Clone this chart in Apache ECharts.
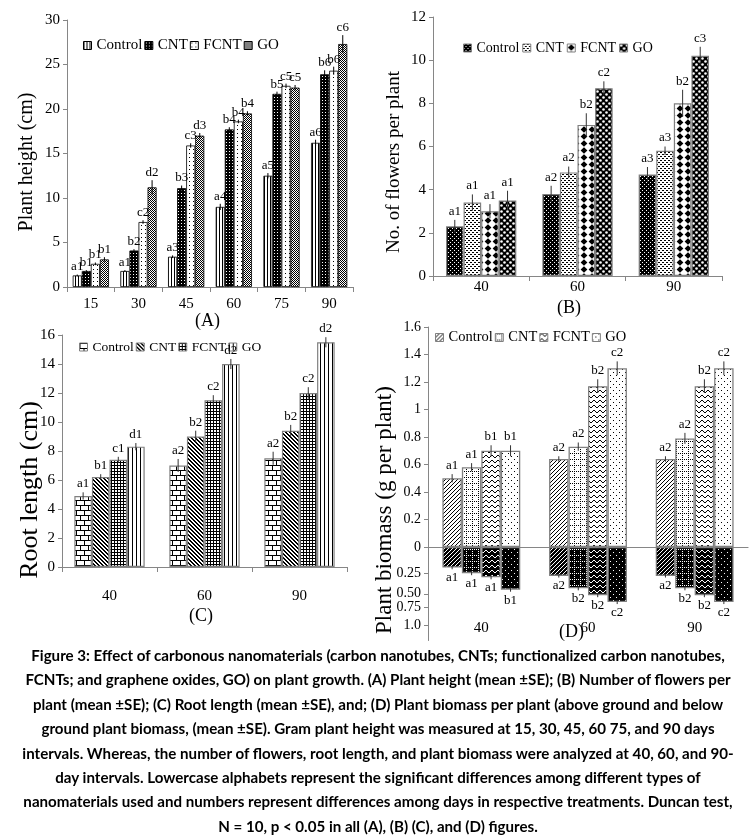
<!DOCTYPE html>
<html>
<head>
<meta charset="utf-8">
<script src="https://cdn.jsdelivr.net/npm/echarts@6.0.0/dist/echarts.min.js"></script>
<style>
html,body{margin:0;padding:0;background:#fff;}
body{width:756px;height:840px;position:relative;overflow:hidden;}
.p{position:absolute;}
#cap{position:absolute;left:0;width:756px;top:643px;text-align:center;font-family:Lato,'Open Sans',sans-serif;font-weight:700;color:#000;line-height:24.4px;white-space:nowrap;}
</style>
</head>
<body>
<div id="A" class="p" style="left:0;top:0;width:380px;height:330px"></div>
<div id="B" class="p" style="left:380px;top:0;width:376px;height:320px"></div>
<div id="C" class="p" style="left:0;top:315px;width:380px;height:320px"></div>
<div id="D" class="p" style="left:370px;top:315px;width:386px;height:330px"></div>
<div id="cap"></div>
<script>
// ================= DATA =================
var names = ['Control', 'CNT', 'FCNT', 'GO'];

// (A) Plant height (cm)
var aCats = ['15', '30', '45', '60', '75', '90'];
var aControl = [1.3, 1.8, 3.4, 9.0, 12.5, 16.2];
var aCNT     = [1.8, 4.1, 11.1, 17.7, 21.7, 23.9];
var aFCNT    = [2.6, 7.3, 15.9, 18.6, 22.6, 24.3];
var aGO      = [3.1, 11.2, 17.0, 19.5, 22.4, 27.3];
var aErrControl = [0.1, 0.1, 0.15, 0.35, 0.3, 0.35];
var aErrCNT     = [0.1, 0.15, 0.3, 0.25, 0.25, 0.45];
var aErrFCNT    = [0.15, 0.2, 0.25, 0.2, 0.25, 0.45];
var aErrGO      = [0.25, 0.8, 0.3, 0.25, 0.3, 1.0];
var aLabControl = ['a1', 'a1', 'a3', 'a4', 'a5', 'a6'];
var aLabCNT     = ['b1', 'b2', 'b3', 'b4', 'b5', 'b6'];
var aLabFCNT    = ['b1', 'c2', 'c3', 'b4', 'c5', 'b6'];
var aLabGO      = ['b1', 'd2', 'd3', 'b4', 'c5', 'c6'];

// (B) No. of flowers per plant
var bCats = ['40', '60', '90'];
var bControl = [2.3, 3.8, 4.7];
var bCNT     = [3.4, 4.8, 5.8];
var bFCNT    = [3.0, 7.0, 8.0];
var bGO      = [3.5, 8.7, 10.2];
var bErrControl = [0.3, 0.38, 0.35];
var bErrCNT     = [0.38, 0.27, 0.2];
var bErrFCNT    = [0.33, 0.54, 0.63];
var bErrGO      = [0.45, 0.32, 0.42];
var bLabControl = ['a1', 'a2', 'a3'];
var bLabCNT     = ['a1', 'a2', 'a3'];
var bLabFCNT    = ['a1', 'b2', 'b2'];
var bLabGO      = ['a1', 'c2', 'c3'];

// (C) Root length (cm)
var cCats = ['40', '60', '90'];
var cControl = [4.9, 7.0, 7.5];
var cCNT     = [6.2, 9.0, 9.4];
var cFCNT    = [7.4, 11.5, 12.0];
var cGO      = [8.3, 14.0, 15.5];
var cErrControl = [0.25, 0.45, 0.45];
var cErrCNT     = [0.2, 0.4, 0.4];
var cErrFCNT    = [0.2, 0.35, 0.4];
var cErrGO      = [0.25, 0.35, 0.35];
var cLabControl = ['a1', 'a2', 'a2'];
var cLabCNT     = ['b1', 'b2', 'b2'];
var cLabFCNT    = ['c1', 'c2', 'c2'];
var cLabGO      = ['d1', 'd2', 'd2'];

// (D) Plant biomass (g per plant): above ground (positive) and below ground (negative)
var dCats = ['40', '60', '90'];
var dAboveControl = [0.50, 0.64, 0.64];
var dAboveCNT     = [0.58, 0.73, 0.79];
var dAboveFCNT    = [0.70, 1.17, 1.17];
var dAboveGO      = [0.70, 1.30, 1.30];
var dBelowControl = [-0.15, -0.21, -0.21];
var dBelowCNT     = [-0.19, -0.30, -0.30];
var dBelowFCNT    = [-0.22, -0.35, -0.35];
var dBelowGO      = [-0.31, -0.40, -0.40];
var dErrAboveControl = [0.03, 0.02, 0.02];
var dErrAboveCNT     = [0.03, 0.03, 0.04];
var dErrAboveFCNT    = [0.04, 0.05, 0.05];
var dErrAboveGO      = [0.04, 0.05, 0.05];
var dErrBelowControl = [0.012, 0.012, 0.012];
var dErrBelowCNT     = [0.015, 0.015, 0.015];
var dErrBelowFCNT    = [0.015, 0.015, 0.015];
var dErrBelowGO      = [0.015, 0.015, 0.015];
var dLabAboveControl = ['a1', 'a2', 'a2'];
var dLabAboveCNT     = ['a1', 'a2', 'a2'];
var dLabAboveFCNT    = ['b1', 'b2', 'b2'];
var dLabAboveGO      = ['b1', 'c2', 'c2'];
var dLabBelowControl = ['a1', 'a2', 'a2'];
var dLabBelowCNT     = ['a1', 'b2', 'b2'];
var dLabBelowFCNT    = ['a1', 'b2', 'b2'];
var dLabBelowGO      = ['b1', 'c2', 'c2'];
// y tick labels of panel D (the two closely spaced below-ground labels share one two-line label)
var dTickLabels = ['1.6', '1.4', '1.2', '1', '0.8', '0.6', '0.4', '0.2', '0', '0.25', '0.50\n0.75', '1.0'];
var dTickValues = [1.6, 1.4, 1.2, 1.0, 0.8, 0.6, 0.4, 0.2, 0, -0.19, -0.39, -0.57];
var dTickMarks  = [1.6, 1.4, 1.2, 1.0, 0.8, 0.6, 0.4, 0.2, 0, -0.19, -0.34, -0.44, -0.57];

var axisTitles = {
  A: 'Plant height (cm)',
  B: 'No. of flowers per plant',
  C: 'Root length (cm)',
  D: 'Plant biomass (g per plant)'
};

var captionLines = [
  'Figure 3: Effect of carbonous nanomaterials (carbon nanotubes, CNTs; functionalized carbon nanotubes,',
  'FCNTs; and graphene oxides, GO) on plant growth. (A) Plant height (mean \u00b1SE); (B) Number of flowers per',
  'plant (mean \u00b1SE); (C) Root length (mean \u00b1SE), and; (D) Plant biomass per plant (above ground and below',
  'ground plant biomass, (mean \u00b1SE). Gram plant height was measured at 15, 30, 45, 60 75, and 90 days',
  'intervals. Whereas, the number of flowers, root length, and plant biomass were analyzed at 40, 60, and 90-',
  'day intervals. Lowercase alphabets represent the significant differences among different types of',
  'nanomaterials used and numbers represent differences among days in respective treatments. Duncan test,',
  'N = 10, p < 0.05 in all (A), (B) (C), and (D) figures.'
];

// ================= PATTERNS =================
function mk(w, h, bg, fg, fn) {
  var c = document.createElement('canvas');
  c.width = w; c.height = h;
  var g = c.getContext('2d');
  g.fillStyle = bg; g.fillRect(0, 0, w, h);
  g.fillStyle = fg; g.strokeStyle = fg;
  fn(g);
  return { image: c, repeat: 'repeat' };
}
function px(g, pts) { pts.forEach(function (p) { g.fillRect(p[0], p[1], p[2] || 1, p[3] || 1); }); }

var W = '#ffffff', K = '#000000';
var patA = [
  mk(3, 1, W, K, function (g) { px(g, [[0, 0]]); }),
  mk(3, 3, K, W, function (g) { px(g, [[1, 1]]); }),
  mk(4, 4, W, K, function (g) { px(g, [[1, 1]]); }),
  mk(2, 2, W, K, function (g) { px(g, [[0, 0], [1, 1]]); })
];
var patB = [
  mk(4, 4, K, W, function (g) { px(g, [[0, 0], [2, 2]]); }),
  mk(4, 4, W, K, function (g) { px(g, [[0, 0, 2, 1], [2, 2, 2, 1]]); }),
  mk(8, 7, W, K, function (g) { g.beginPath(); g.moveTo(4, 0.3); g.lineTo(7.4, 3.5); g.lineTo(4, 6.7); g.lineTo(0.6, 3.5); g.closePath(); g.fill(); }),
  mk(6, 6, K, W, function (g) { g.beginPath(); g.arc(1.5, 1.5, 1.3, 0, 7); g.fill(); g.beginPath(); g.arc(4.5, 4.5, 1.3, 0, 7); g.fill(); })
];
var patC = [
  mk(8, 10, W, K, function (g) { px(g, [[0, 0, 8, 1], [0, 5, 8, 1], [0, 0, 1, 5], [4, 5, 1, 5]]); }),
  mk(4, 4, W, K, function (g) { for (var i = 0; i < 4; i++) px(g, [[i, i], [(i + 1) % 4, i]]); }),
  mk(3, 3, W, K, function (g) { px(g, [[0, 0, 3, 1], [0, 0, 1, 3]]); }),
  mk(4, 1, W, K, function (g) { px(g, [[0, 0]]); })
];
function dPats(bg, fg) {
  return [
    mk(4, 4, bg, fg, function (g) { for (var i = 0; i < 4; i++) px(g, [[3 - i, i]]); }),
    mk(6, 6, bg, fg, function (g) { px(g, [[0, 0], [0, 2], [0, 4], [2, 0], [4, 0]]); }),
    mk(6, 5, bg, fg, function (g) { px(g, [[0, 1], [1, 0], [2, 0], [3, 1], [4, 2], [5, 2]]); }),
    mk(6, 6, bg, fg, function (g) { px(g, [[0, 0], [3, 3]]); })
  ];
}
var patDAbove = dPats(W, K);
var patDBelow = dPats(K, W);

// ================= BUILDERS =================
var SERIF = 'Liberation Serif';
function errSeries(c, vals, errs, labs, k) {
  return {
    type: 'custom', silent: true, z: 10, clip: false,
    data: vals.map(function (v, i) { return [i, v, errs[i]]; }),
    encode: { x: 0, y: 1 },
    renderItem: function (params, api) {
      var ci = api.value(0), v = api.value(1), e = api.value(2);
      var cc = api.coord([ci, v]);
      var band = api.size([1, 0])[0];
      var tot = band * (1 - c.gapFrac);
      var bw = tot / 4;
      var x = cc[0] - tot / 2 + (k + 0.5) * bw;
      var y1 = api.coord([ci, v + e])[1];
      var y2 = api.coord([ci, v - e])[1];
      var top = Math.min(y1, y2), bot = Math.max(y1, y2);
      var kids = [{ type: 'line', shape: { x1: x, y1: top, x2: x, y2: bot }, style: { stroke: c.errColor, lineWidth: 1 } }];
      var lab = labs[params.dataIndex];
      var neg = v < 0;
      kids.push({
        type: 'text', x: x, y: neg ? bot + c.labGap : top - c.labGap,
        style: { text: lab, fill: '#000', font: c.labFont + 'px "' + SERIF + '"', align: 'center', verticalAlign: neg ? 'top' : 'bottom' }
      });
      return { type: 'group', children: kids };
    }
  };
}

function makeOption(c) {
  var series = [];
  c.sets.forEach(function (set, si) {
    for (var k = 0; k < 4; k++) {
      series.push({
        type: 'bar', name: si === 0 ? names[k] : names[k] + ' below ground',
        data: set.vals[k], stack: c.stacked ? names[k] : null,
        barGap: '0%', barCategoryGap: (c.gapFrac * 100) + '%',
        itemStyle: { color: set.pats[k], borderColor: c.border, borderWidth: c.borderW },
        emphasis: { disabled: true }
      });
    }
  });
  c.sets.forEach(function (set) {
    for (var k = 0; k < 4; k++) series.push(errSeries(c, set.vals[k], set.errs[k], set.labs[k], k));
  });
  return {
    animation: false,
    textStyle: { fontFamily: SERIF },
    title: { text: c.title, left: c.titlePos[0], top: c.titlePos[1], textStyle: { fontFamily: SERIF, fontWeight: 'normal', fontSize: 18, color: '#000' } },
    legend: {
      data: names, left: c.legendPos[0], top: c.legendPos[1], icon: 'rect', itemWidth: 8, itemHeight: 8, itemGap: c.legendGap,
      selectedMode: false,
      itemStyle: { borderColor: c.border, borderWidth: 1 },
      textStyle: { fontFamily: SERIF, fontSize: c.legendFont, color: '#000' }
    },
    graphic: [{
      type: 'text', x: c.yTitle.x, y: c.yTitle.y, rotation: Math.PI / 2, silent: true,
      style: { text: c.yTitle.text, fill: '#000', font: c.yTitle.size + 'px "' + SERIF + '"', align: 'center', verticalAlign: 'middle' }
    }],
    grid: c.grid,
    xAxis: c.xAxis,
    yAxis: c.yAxis,
    series: series
  };
}

var axisGray = '#868686';
function catAxis(cats, margin, extra) {
  var a = {
    type: 'category', data: cats, position: 'bottom',
    axisLine: { lineStyle: { color: axisGray, width: 1 } },
    axisTick: { show: true, length: 5, lineStyle: { color: axisGray } },
    axisLabel: { margin: margin, fontSize: 15, color: '#000', fontFamily: SERIF },
    splitLine: { show: false }
  };
  if (extra) for (var key in extra) a[key] = extra[key];
  return a;
}
function valAxis(min, max, interval) {
  return {
    type: 'value', min: min, max: max, interval: interval,
    axisLine: { show: true, lineStyle: { color: axisGray, width: 1 } },
    axisTick: { show: true, length: 4, lineStyle: { color: axisGray } },
    axisLabel: { fontSize: 15, color: '#000', fontFamily: SERIF, margin: 7 },
    splitLine: { show: false }
  };
}

// ---- Panel A
var optA = makeOption({
  title: '(A)', titlePos: [190, 307], legendPos: [78, 33], legendGap: 2, legendFont: 15,
  yTitle: { text: axisTitles.A, x: 27, y: 162, size: 20 },
  grid: { left: 67, top: 20, width: 286, height: 267 },
  xAxis: catAxis(aCats, 10),
  yAxis: valAxis(0, 30, 5),
  gapFrac: 0.24, border: '#000', borderW: 0.8, errColor: '#000', labGap: 1, labFont: 13,
  sets: [{ vals: [aControl, aCNT, aFCNT, aGO], errs: [aErrControl, aErrCNT, aErrFCNT, aErrGO], labs: [aLabControl, aLabCNT, aLabFCNT, aLabGO], pats: patA }]
});

// ---- Panel B
var optB = makeOption({
  title: '(B)', titlePos: [172, 294], legendPos: [78, 36], legendGap: 3, legendFont: 14,
  yTitle: { text: axisTitles.B, x: 14, y: 162, size: 19 },
  grid: { left: 53, top: 17, width: 289, height: 259 },
  xAxis: catAxis(bCats, 4),
  yAxis: valAxis(0, 12, 2),
  gapFrac: 0.27, border: '#808080', borderW: 1.2, errColor: '#333', labGap: 2, labFont: 13,
  sets: [{ vals: [bControl, bCNT, bFCNT, bGO], errs: [bErrControl, bErrCNT, bErrFCNT, bErrGO], labs: [bLabControl, bLabCNT, bLabFCNT, bLabGO], pats: patB }]
});

// ---- Panel C
var optC = makeOption({
  title: '(C)', titlePos: [184, 287], legendPos: [74, 20], legendGap: 2, legendFont: 13.5,
  yTitle: { text: axisTitles.C, x: 30, y: 175, size: 26 },
  grid: { left: 62, top: 20, width: 285, height: 232 },
  xAxis: catAxis(cCats, 22),
  yAxis: valAxis(0, 16, 2),
  gapFrac: 0.26, border: '#808080', borderW: 1.2, errColor: '#333', labGap: 2, labFont: 13,
  sets: [{ vals: [cControl, cCNT, cFCNT, cGO], errs: [cErrControl, cErrCNT, cErrFCNT, cErrGO], labs: [cLabControl, cLabCNT, cLabFCNT, cLabGO], pats: patC }]
});

// ---- Panel D
function tickLabel(v) {
  var best = 0;
  for (var i = 1; i < dTickValues.length; i++) if (Math.abs(dTickValues[i] - v) < Math.abs(dTickValues[best] - v)) best = i;
  return dTickLabels[best];
}
var dY = valAxis(-0.68, 1.6, null);
delete dY.interval;
dY.axisLabel.customValues = dTickValues;
dY.axisLabel.formatter = tickLabel;
dY.axisLabel.fontSize = 14;
dY.axisLabel.lineHeight = 14;
dY.axisLabel.hideOverlap = false;
dY.axisLabel.showMinLabel = true;
dY.axisLabel.showMaxLabel = true;
dY.axisTick.customValues = dTickMarks;
var optD = makeOption({
  title: '(D)', titlePos: [184, 303], legendPos: [60, 10], legendGap: 2, legendFont: 14.5,
  yTitle: { text: axisTitles.D, x: 15, y: 195, size: 23 },
  grid: { left: 58, top: 12, width: 320, height: 313.5 },
  xAxis: [
    catAxis(dCats, 8, { axisTick: { show: false }, axisLabel: { show: false }, axisLine: { onZero: true, lineStyle: { color: axisGray, width: 1.2 } } }),
    catAxis(dCats, -20, { position: 'bottom', axisTick: { show: false }, axisLine: { show: false, onZero: false } })
  ],
  yAxis: dY,
  stacked: true,
  gapFrac: 0.27, border: '#808080', borderW: 1.3, errColor: '#333', labGap: 2, labFont: 13,
  sets: [
    { vals: [dAboveControl, dAboveCNT, dAboveFCNT, dAboveGO], errs: [dErrAboveControl, dErrAboveCNT, dErrAboveFCNT, dErrAboveGO], labs: [dLabAboveControl, dLabAboveCNT, dLabAboveFCNT, dLabAboveGO], pats: patDAbove },
    { vals: [dBelowControl, dBelowCNT, dBelowFCNT, dBelowGO], errs: [dErrBelowControl, dErrBelowCNT, dErrBelowFCNT, dErrBelowGO], labs: [dLabBelowControl, dLabBelowCNT, dLabBelowFCNT, dLabBelowGO], pats: patDBelow }
  ]
});

echarts.init(document.getElementById('A')).setOption(optA);
echarts.init(document.getElementById('B')).setOption(optB);
echarts.init(document.getElementById('C')).setOption(optC);
echarts.init(document.getElementById('D')).setOption(optD);

// ---- Caption
var cap = document.getElementById('cap');
var ctx = document.createElement('canvas').getContext('2d');
ctx.font = '700 100px Lato';
var fs = 100 * 694 / ctx.measureText(captionLines[0]).width;
cap.style.fontSize = fs.toFixed(2) + 'px';
captionLines.forEach(function (t) { var d = document.createElement('div'); d.textContent = t; cap.appendChild(d); });
</script>
</body>
</html>
